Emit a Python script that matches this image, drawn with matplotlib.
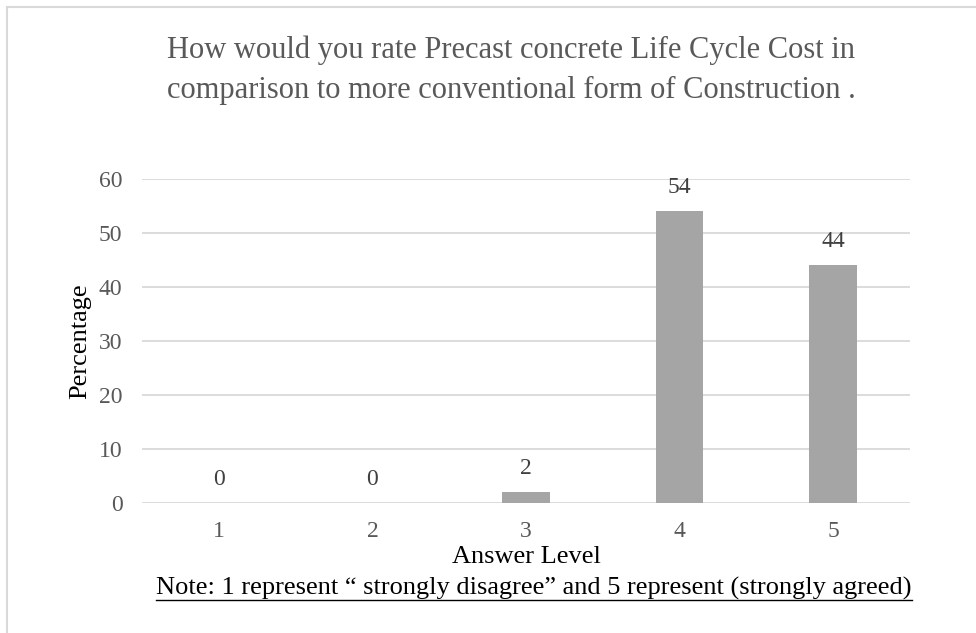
import matplotlib
matplotlib.use("Agg")
import matplotlib.pyplot as plt
from matplotlib.patches import Rectangle
from matplotlib.lines import Line2D

plt.rcParams['font.family'] = ['Liberation Serif', 'DejaVu Serif']

# data
levels = ['1', '2', '3', '4', '5']
percent = [0, 0, 2, 54, 44]
yticks = [0, 10, 20, 30, 40, 50, 60]

title = ('How would you rate Precast concrete Life Cycle Cost in\n'
         'comparison to more conventional form of Construction .')
note = 'Note: 1 represent \u201c strongly disagree\u201d and 5 represent (strongly agreed)'

W, H = 976, 633
fig = plt.figure(figsize=(W / 100, H / 100), dpi=100)

# chart frame (cut off at right / bottom)
fig.patches.append(Rectangle((7 / W, -0.1), 1.2, 1 - 7 / H + 0.1,
                             transform=fig.transFigure, fill=False,
                             edgecolor='#d9d9d9', linewidth=1.5))

ax = fig.add_axes([142 / W, (H - 502.7) / H, 768 / W, 324 / H])
x = range(len(levels))
ax.bar(x, percent, width=0.31, color='#a5a5a5', zorder=2)
ax.set_xlim(-0.5, len(levels) - 0.5)
ax.set_ylim(0, 60)
ax.set_yticks(yticks)
ax.set_xticks(list(x))
ax.set_xticklabels(levels)
ax.grid(axis='y', color='#d9d9d9', linewidth=1.3, zorder=0)
for s in ax.spines.values():
    s.set_visible(False)
ax.tick_params(length=0, labelsize=17, labelcolor='#595959')
ax.tick_params(axis='x', pad=13)
ax.tick_params(axis='y', pad=14)

for i, v in enumerate(percent):
    ax.annotate(str(v), (i, v), xytext=(0, 17), textcoords='offset points',
                ha='center', va='center', fontsize=17, color='#404040')

ax.set_ylabel('Percentage', fontsize=19, color='black')
ax.yaxis.set_label_coords(-51 / 768, 0.5)

fig.text(526 / W, 1 - 557 / H, 'Answer Level', ha='center', va='center',
         fontsize=19, color='black')
nt = fig.text(534 / W, 1 - 588 / H, note, ha='center', va='center',
              fontsize=19, color='black')

fig.text(511 / W, 1 - 70 / H, title, ha='center', va='center',
         fontsize=22, color='#595959', linespacing=1.5)

# underline the note
fig.canvas.draw()
bb = nt.get_window_extent()
uy = (H - 600) / H
fig.lines.append(Line2D([bb.x0 / W, bb.x1 / W], [uy, uy],
                        transform=fig.transFigure, color='black', linewidth=1))

fig.savefig('out.png', dpi=100)
